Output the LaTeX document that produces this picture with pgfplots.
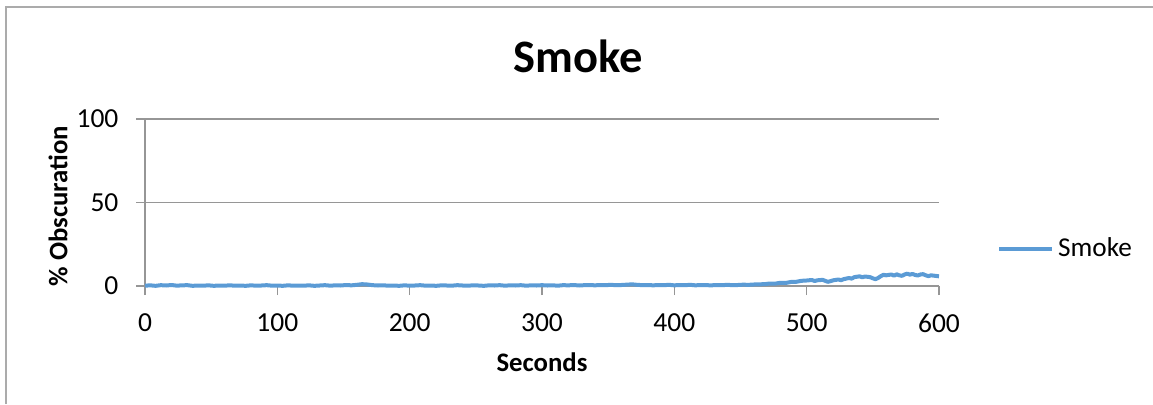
\documentclass[border=0pt]{standalone}
\usepackage{pgfplots}
\pgfplotsset{compat=1.18}
\usepackage{fontspec}
\setmainfont{Carlito}
\definecolor{smoke}{HTML}{5B9BD5}
\definecolor{gridc}{HTML}{969696}
\pgfplotstableread{
t v
0 0.2
4 0.4
8 0.1
12 0.5
16 0.3
20 0.6
24 0.2
28 0.4
32 0.5
36 0.1
40 0.3
44 0.2
48 0.4
52 0.1
56 0.3
60 0.2
64 0.4
68 0.2
72 0.3
76 0.1
80 0.4
84 0.2
88 0.3
92 0.5
96 0.2
100 0.3
104 0.1
108 0.4
112 0.2
116 0.3
120 0.2
124 0.4
128 0.1
132 0.3
136 0.5
140 0.2
144 0.4
148 0.3
152 0.6
156 0.4
160 0.7
164 1.1
168 0.9
172 0.5
176 0.3
180 0.4
184 0.2
188 0.3
192 0.1
196 0.4
200 0.2
204 0.3
208 0.5
212 0.2
216 0.3
220 0.1
224 0.4
228 0.3
232 0.2
236 0.5
240 0.3
244 0.2
248 0.4
252 0.3
256 0.1
260 0.4
264 0.3
268 0.5
272 0.2
276 0.4
280 0.3
284 0.5
288 0.2
292 0.4
296 0.3
300 0.5
304 0.3
308 0.4
312 0.2
316 0.5
320 0.4
324 0.6
328 0.3
332 0.5
336 0.6
340 0.4
344 0.6
348 0.5
352 0.7
356 0.5
360 0.6
364 0.8
368 1.0
372 0.7
376 0.5
380 0.6
384 0.4
388 0.6
392 0.5
396 0.7
400 0.4
404 0.6
408 0.5
412 0.7
416 0.4
420 0.6
424 0.5
428 0.4
432 0.6
436 0.5
440 0.7
444 0.5
448 0.6
452 0.8
456 0.7
460 0.9
464 1.0
468 1.1
472 1.5
476 1.4
480 1.9
484 1.8
488 2.4
492 2.5
496 3.1
500 3.3
504 3.6
506 3.0
508 3.4
512 3.7
514 3.1
516 2.5
518 2.9
520 3.4
524 3.9
526 3.5
528 4.1
532 4.8
534 4.4
536 5.3
540 5.8
542 5.2
544 5.7
548 5.3
550 4.6
552 4.1
554 4.8
556 5.9
558 6.7
560 6.4
564 6.9
566 6.2
568 7.0
570 6.4
572 6.1
574 6.9
576 7.4
578 6.8
580 7.2
582 6.6
584 6.3
586 6.9
588 7.1
590 6.4
592 5.9
594 6.4
596 6.2
598 6.0
600 5.8
}\smokedata
\begin{document}
\begin{tikzpicture}[font=\fontsize{10}{12}\selectfont]
\path[use as bounding box] (0,0) rectangle (461.2pt,161.6pt);
\draw[color=gridc!80, line width=0.8pt] (2.4pt,0) -- (2.4pt,159pt) -- (461.2pt,159pt);
\begin{axis}[
  at={(58pt,47.2pt)}, anchor=south west,
  scale only axis, width=317.6pt, height=66.8pt,
  xmin=0, xmax=600, ymin=0, ymax=100,
  xtick={0,100,...,600}, ytick={0,50,100},
  axis x line*=bottom, axis y line*=left,
  axis line style={draw=gridc, line width=0.5pt},
  ymajorgrids, grid style={draw=gridc, line width=0.5pt},
  tick align=outside, major tick length=3.6pt,
  tick style={draw=gridc, line width=0.5pt},
  xticklabel style={yshift=-3.9pt},
  yticklabel style={xshift=-3.5pt},
  /pgf/number format/assume math mode=true,
  ticklabel style={font=\fontsize{11}{13}\selectfont},
  clip=false,
  legend style={at={(rel axis cs:1.073,0.2216)}, anchor=west, draw=none, fill=none, inner sep=0pt, nodes={inner sep=1.5pt}, font=\fontsize{10.9}{13}\selectfont},
  legend image code/.code={\draw[#1, line width=1.6pt] (0pt,0pt) -- (21.2pt,0pt);},
]
\addplot[color=smoke, line width=1.6pt, line join=round] table[x=t, y=v] {\smokedata};
\addlegendentry{Smoke}
\end{axis}
\node[font=\bfseries\fontsize{18.6}{22}\selectfont, anchor=base] at (231.4pt,132.8pt) {Smoke};
\node[rotate=90, font=\bfseries\fontsize{10.7}{13}\selectfont] at (23.2pt,79.2pt) {\% Obscuration};
\node[font=\bfseries\fontsize{10.7}{13}\selectfont] at (216.8pt,16.8pt) {Seconds};
\end{tikzpicture}
\end{document}
